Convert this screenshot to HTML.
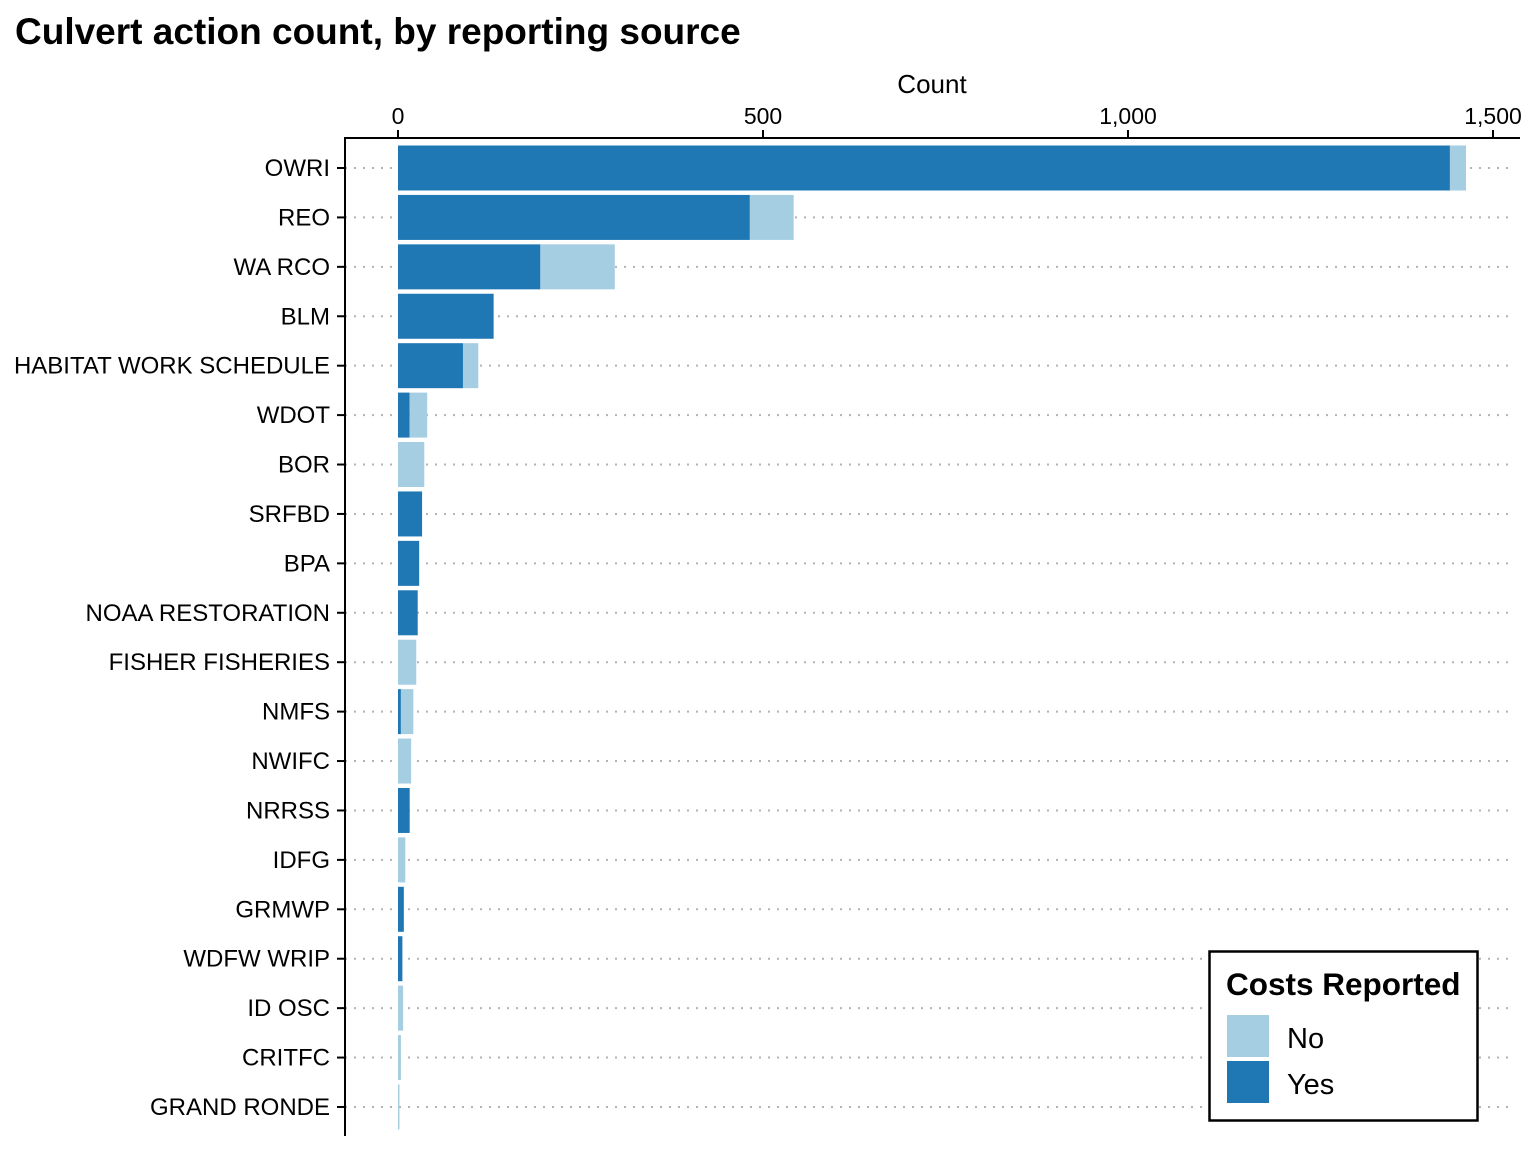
<!DOCTYPE html>
<html><head><meta charset="utf-8"><style>
body{margin:0;background:#fff;}
svg text{font-family:"Liberation Sans",Arial,sans-serif;}
</style></head><body>
<svg id="chart" width="1536" height="1152" xmlns="http://www.w3.org/2000/svg">
<text x="15" y="44" font-size="37" font-weight="bold" fill="#000">Culvert action count, by reporting source</text>
<text x="932" y="93" font-size="26" text-anchor="middle" fill="#000">Count</text>
<g id="grid"></g><g id="bars"></g><g id="axes"></g>
<g>
<rect x="1209.5" y="951.5" width="268" height="169" fill="#fff" stroke="#000" stroke-width="2.5"/>
<text x="1226" y="995" font-size="31.5" font-weight="bold">Costs Reported</text>
<rect x="1227" y="1015" width="42" height="42" fill="#a6cee3"/>
<text x="1287" y="1048" font-size="29">No</text>
<rect x="1227" y="1061" width="42" height="42" fill="#1f78b4"/>
<text x="1287" y="1094" font-size="29">Yes</text>
</g>
</svg>
<script>
const categories=["OWRI","REO","WA RCO","BLM","HABITAT WORK SCHEDULE","WDOT","BOR","SRFBD","BPA","NOAA RESTORATION","FISHER FISHERIES","NMFS","NWIFC","NRRSS","IDFG","GRMWP","WDFW WRIP","ID OSC","CRITFC","GRAND RONDE"];
const yesValues=[1441,482,195,131,89,16,0,33,29,27,0,4,0,16,0,8,6,0,0,0];
const noValues=[22,60,102,0,21,24,36,0,0,0,25,17,18,0,10,0,0,7,4,2];
const tickValues=[0,500,1000,1500];
const tickLabels=["0","500","1,000","1,500"];
const NS="http://www.w3.org/2000/svg";
const x=v=>398+v*0.73;
const y=i=>168+i*49.42;
const bh=45;
function mk(tag,attrs,parent){const e=document.createElementNS(NS,tag);for(const k in attrs)e.setAttribute(k,attrs[k]);parent.appendChild(e);return e;}
const grid=document.getElementById('grid'),bars=document.getElementById('bars'),axes=document.getElementById('axes');
categories.forEach((c,i)=>{
  const g=mk('line',{x1:345,x2:1515,y1:y(i),y2:y(i),stroke:'#b3b3b3','stroke-width':2,'stroke-dasharray':'2 7'},grid);
  
  
  if(yesValues[i]>0){const r=mk('rect',{x:x(0),y:y(i)-bh/2,width:x(yesValues[i])-x(0),height:bh,fill:'#1f78b4'},bars);
    
    }
  if(noValues[i]>0){const r=mk('rect',{x:x(yesValues[i]),y:y(i)-bh/2,width:x(noValues[i])-x(0),height:bh,fill:'#a6cee3'},bars);
    
    }
  const t=mk('text',{x:330,y:y(i)+8,'font-size':24,'text-anchor':'end',fill:'#000'},axes);t.textContent=c;
  
  
  mk('line',{x1:337,x2:345,y1:y(i),y2:y(i),stroke:'#000','stroke-width':2},axes);
});
tickValues.forEach((v,i)=>{
  mk('line',{x1:x(v),x2:x(v),y1:130,y2:138,stroke:'#000','stroke-width':2},axes);
  const t=mk('text',{x:x(v),y:124,'font-size':23,'text-anchor':'middle',fill:'#000'},axes);t.textContent=tickLabels[i];
  
  
});
mk('line',{x1:345,x2:345,y1:137,y2:1136,stroke:'#000','stroke-width':2},axes);
mk('line',{x1:344,x2:1520,y1:138,y2:138,stroke:'#000','stroke-width':2},axes);
</script>
</body></html>
